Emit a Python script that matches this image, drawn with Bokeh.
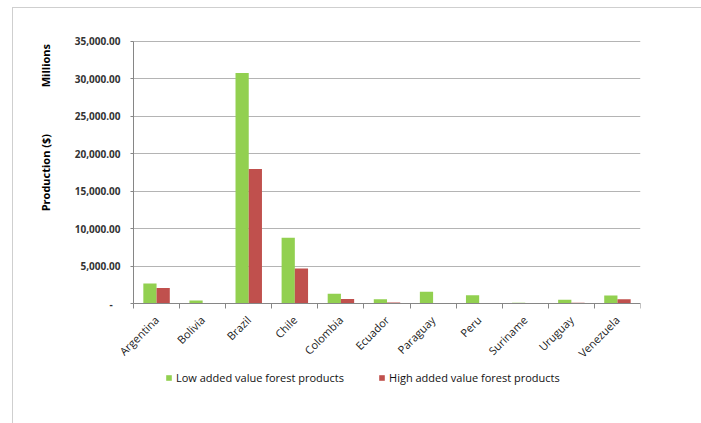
from math import pi

from bokeh.plotting import figure
from bokeh.models import (Range1d, FixedTicker, NumeralTickFormatter,
                          Legend, LegendItem, Label)
from bokeh.embed import file_html
from bokeh.resources import INLINE

# Forest products production by country (millions of $)
countries = ["Argentina", "Bolivia", "Brazil", "Chile", "Colombia", "Ecuador",
             "Paraguay", "Peru", "Suriname", "Uruguay", "Venezuela"]
low_value = [2700, 450, 30800, 8800, 1350, 600, 1600, 1150, 150, 550, 1100]
high_value = [2100, 0, 18000, 4700, 650, 170, 0, 0, 20, 150, 600]
series_names = ["Low added value forest products", "High added value forest products"]
y_max = 35000
y_ticks_step = 5000

GREEN = "#92D050"
RED = "#C0504D"
FONT = "Open Sans"

n = len(countries)
pos = list(range(n))
bar_w = 0.287
x_lo, x_hi = -0.5, n - 0.5

# the frame reaches left of the value axis, a little above the top value and
# below zero so that tick labels, axis titles and the legend all fit inside it
p = figure(width=689, height=416, output_backend="svg", toolbar_location=None,
           x_range=Range1d(x_lo - 2.604, x_hi), y_range=Range1d(-12900, y_max + 800),
           min_border_left=0, min_border_right=62, min_border_top=27, min_border_bottom=24,
           margin=(7, 0, 0, 12),
           styles={"border-top": "1px solid #cfcfcf", "border-left": "1px solid #cfcfcf"})
p.outline_line_color = None

r_low = p.vbar(x=[i - bar_w / 2 for i in pos], top=low_value, width=bar_w,
               fill_color=GREEN, line_color=None)
r_high = p.vbar(x=[i + bar_w / 2 for i in pos], top=high_value, width=bar_w,
                fill_color=RED, line_color=None)

# x axis sits on zero: labels at category centres, tick marks between categories
xa = p.xaxis[0]
xa.fixed_location = 0
xa.bounds = (x_lo, x_hi)
xa.ticker = FixedTicker(ticks=pos, minor_ticks=[i - 0.5 for i in range(n + 1)])
xa.major_label_overrides = {i: c for i, c in enumerate(countries)}
xa.major_tick_line_color = None
xa.minor_tick_line_color = "#868686"
xa.minor_tick_out = 5
xa.minor_tick_in = 0
xa.axis_line_color = "#868686"
xa.major_label_orientation = 0.785
xa.major_label_text_font = FONT
xa.major_label_text_font_size = "11px"
xa.major_label_text_color = "#222222"
xa.major_label_standoff = 8

# value axis sits at the left edge of the first category
ya = p.yaxis[0]
ya.fixed_location = x_lo
ya.bounds = (0, y_max)
ya.ticker = FixedTicker(ticks=list(range(0, y_max + 1, y_ticks_step)))
ya.formatter = NumeralTickFormatter(format="0,0.00")
ya.major_label_overrides = {0: "-\u00a0\u00a0\u00a0"}
ya.minor_tick_line_color = None
ya.major_tick_line_color = "#868686"
ya.major_tick_out = 3
ya.major_tick_in = 0
ya.axis_line_color = "#868686"
ya.major_label_text_font = FONT
ya.major_label_text_font_size = "10px"
ya.major_label_text_font_style = "bold"
ya.major_label_text_color = "#333333"
ya.major_label_standoff = 10

p.xgrid.grid_line_color = None
ygrid = p.ygrid[0]
ygrid.grid_line_color = "#b4b4b4"
ygrid.grid_line_width = 1
ygrid.bounds = (0, y_max)
if "cross_bounds" in ygrid.properties():
    ygrid.cross_bounds = (x_lo, x_hi)

# value-axis titles
title_x = x_lo - 1.909
for txt, ty in [("Production ($)", y_max / 2), ("Millions", y_max * 0.908)]:
    p.add_layout(Label(x=title_x, y=ty, text=txt, angle=pi / 2,
                       text_font=FONT, text_font_size="11px", text_font_style="bold",
                       text_color="#000000", text_align="center", text_baseline="middle"))

legend = Legend(items=[LegendItem(label=series_names[0], renderers=[r_low]),
                       LegendItem(label=series_names[1], renderers=[r_high])],
                orientation="horizontal", location=(152, 15),
                glyph_width=7, glyph_height=7, spacing=34, padding=0, margin=0,
                label_text_font=FONT, label_text_font_size="11px",
                label_text_color="#111111", label_standoff=4,
                border_line_color=None, background_fill_alpha=0)
p.add_layout(legend, "center")

open("out.html", "w").write(file_html(p, INLINE))
